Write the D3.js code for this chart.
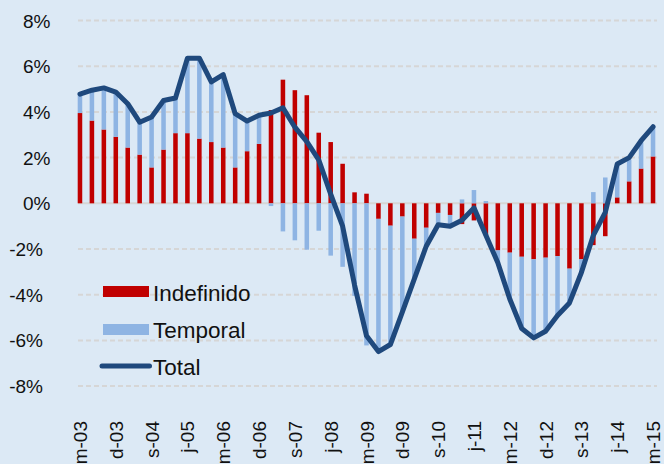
<!DOCTYPE html>
<head>
    <meta charset="utf-8">
    <title>Empleo: Indefinido vs Temporal</title>
    <script src="https://d3js.org/d3.v7.min.js"></script>
    <style>
        body{
            margin: 0;
            background: #dce9f5;
        }
        svg{
            display: block;
            background: #dce9f5;
            font-family: "Liberation Sans", Arial, sans-serif;
        }
    </style>
</head>
<body>
    <svg id="chart" width="664" height="464"></svg>

    <script>
        // quarterly labels, only every third quarter shows a tick label
        var tickLabels = ["m-03","d-03","s-04","j-05","m-06","d-06","s-07","j-08","m-09",
                          "d-09","s-10","j-11","m-12","d-12","s-13","j-14","m-15"];

        var indefinido = [3.95,3.62,3.23,2.91,2.44,2.13,1.57,2.35,3.07,3.07,2.83,2.68,2.44,1.57,2.28,2.60,
                          4.08,5.41,4.95,4.73,3.09,2.68,1.73,0.48,0.42,-0.68,-0.98,-0.58,-1.55,-1.07,-0.42,-0.51,
                          -0.91,-0.75,-1.40,-2.06,-2.16,-2.34,-2.45,-2.38,-2.31,-2.86,-2.45,-1.83,-1.44,0.26,0.96,1.52,2.05];

        var temporal   = [0.83,1.33,1.82,1.96,1.92,1.42,2.21,2.15,1.54,3.28,3.52,2.63,3.19,2.35,1.32,1.25,
                          -0.12,-1.23,-1.62,-2.03,-1.20,-2.29,-2.78,-4.05,-6.22,-5.81,-5.20,-4.18,-1.77,-0.81,-0.48,-0.45,
                          0.17,0.58,0.10,-0.54,-2.03,-3.14,-3.44,-3.22,-2.60,-1.50,-0.58,0.49,1.13,1.47,0.96,1.18,1.30];

        var total      = [4.78,4.95,5.05,4.87,4.36,3.55,3.78,4.50,4.61,6.35,6.35,5.31,5.63,3.92,3.60,3.85,
                          3.95,4.18,3.33,2.70,1.90,0.40,-1.00,-3.58,-5.80,-6.49,-6.18,-4.76,-3.32,-1.88,-0.94,-1.00,
                          -0.74,-0.20,-1.40,-2.60,-4.19,-5.48,-5.89,-5.60,-4.91,-4.36,-3.03,-1.40,-0.40,1.72,2.00,2.74,3.35];

        var yTicks = [-8,-6,-4,-2,0,2,4,6,8];

        var svg = d3.select("#chart");

        var quarters = d3.range(total.length);

        // x and y scales
        var x = d3.scaleBand().domain(quarters).range([74, 659]).paddingInner(0.62).paddingOuter(0.31);
        var y = d3.scaleLinear().domain([-8, 8]).range([386.1, 20.5]);

        // gridlines (dashed) and zero line (solid)
        svg.append("g")
            .selectAll("line")
            .data(yTicks)
            .enter()
            .append("line")
                .attr("x1", 78)
                .attr("x2", 657)
                .attr("y1", d => y(d))
                .attr("y2", d => y(d))
                .style("stroke", "#d6d6d6")
                .style("stroke-width", 2)
                .style("stroke-dasharray", d => d == 0 ? null : "5,3");

        // y axis labels
        svg.append("g")
            .selectAll("text")
            .data(yTicks)
            .enter()
            .append("text")
                .attr("x", d => d < 0 ? 43 : 50.5)
                .attr("y", d => y(d) + 7)
                .attr("text-anchor", "end")
                .style("font-size", "19px")
                .style("fill", "#111")
                .text(d => d + "%");

        // stacked bars: positives stack upward from 0, negatives downward
        var bars = [];
        quarters.forEach(function(i){
            var a = indefinido[i], b = temporal[i];
            bars.push({i: i, y0: 0, y1: a, color: "#c00000", order: 1});
            var base = (a >= 0) == (b >= 0) ? a : 0;
            bars.push({i: i, y0: base, y1: base + b, color: "#8eb4e3", order: 0});
        });

        svg.append("g")
            .selectAll("rect")
            .data(bars)
            .enter()
            .append("rect")
                .attr("x", d => x(d.i))
                .attr("width", x.bandwidth())
                .attr("y", d => y(Math.max(d.y0, d.y1)))
                .attr("height", d => Math.abs(y(d.y0) - y(d.y1)))
                .style("fill", d => d.color);

        // total line
        var line = d3.line()
            .x((d, i) => x(i) + x.bandwidth() / 2)
            .y(d => y(d));

        svg.append("path")
            .datum(total)
            .attr("d", line)
            .style("fill", "none")
            .style("stroke", "#1f497d")
            .style("stroke-width", 5)
            .style("stroke-linejoin", "round")
            .style("stroke-linecap", "round");

        // x axis labels, rotated
        svg.append("g")
            .selectAll("text")
            .data(tickLabels)
            .enter()
            .append("text")
                .attr("transform", (d, k) => "translate(" + (x(k * 3) + x.bandwidth() / 2 + 7) + ",421) rotate(-90)")
                .attr("text-anchor", "end")
                .style("font-size", "19px")
                .style("fill", "#111")
                .text(d => d);

        // legend
        var legend = svg.append("g");
        legend.append("rect").attr("x", 103).attr("y", 286).attr("width", 46).attr("height", 11).style("fill", "#c00000");
        legend.append("rect").attr("x", 103).attr("y", 324).attr("width", 46).attr("height", 11).style("fill", "#8eb4e3");
        legend.append("line").attr("x1", 102).attr("x2", 149.5).attr("y1", 366).attr("y2", 366)
            .style("stroke", "#1f497d").style("stroke-width", 5).style("stroke-linecap", "round");

        legend.selectAll("text")
            .data(["Indefinido", "Temporal", "Total"])
            .enter()
            .append("text")
                .attr("x", 153)
                .attr("y", (d, i) => 300.5 + i * 37.2)
                .style("font-size", "22.5px")
                .style("fill", "#111")
                .text(d => d);
    </script>
</body>
</html>
